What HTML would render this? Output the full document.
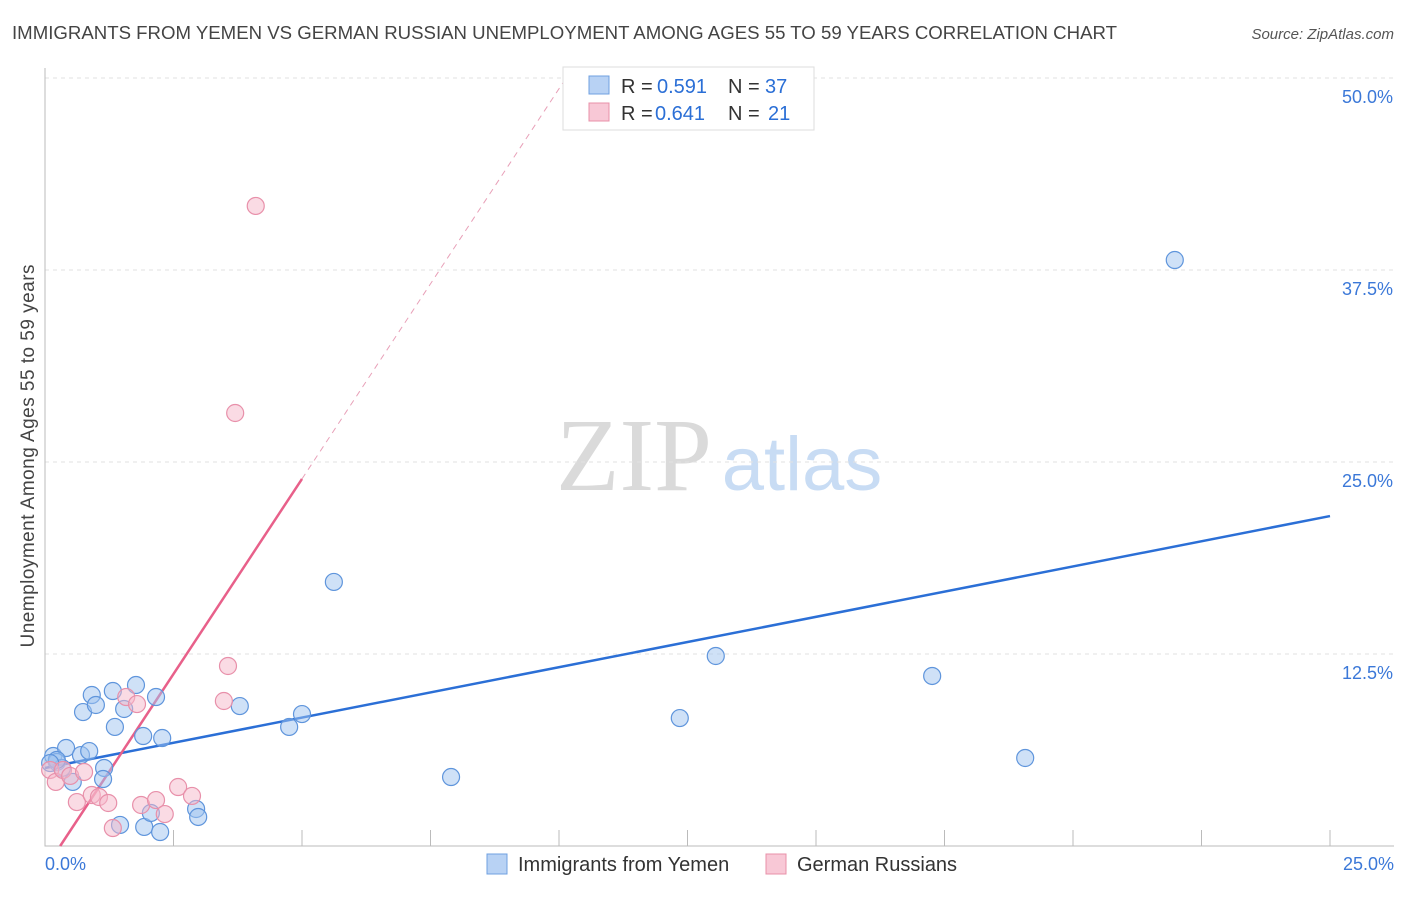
<!DOCTYPE html>
<html><head><meta charset="utf-8"><style>
body{margin:0;background:#fff;font-family:"Liberation Sans",sans-serif;}
</style></head><body>
<svg id="chart" width="1406" height="892" xmlns="http://www.w3.org/2000/svg">
<text x="12" y="39" font-size="18" fill="#444" textLength="1105" lengthAdjust="spacingAndGlyphs">IMMIGRANTS FROM YEMEN VS GERMAN RUSSIAN UNEMPLOYMENT AMONG AGES 55 TO 59 YEARS CORRELATION CHART</text>
<text x="1394" y="39" font-size="15" fill="#555" font-style="italic" text-anchor="end">Source: ZipAtlas.com</text>
<text x="634" y="490" font-size="104" fill="#dadada" font-family="Liberation Serif,serif" text-anchor="middle">ZIP</text>
<text x="802" y="490" font-size="76" fill="#c8dcf4" text-anchor="middle">atlas</text>
<g id="grid"></g><g id="axes"></g><g id="lines"></g><g id="pts"></g>
<text transform="translate(34,456) rotate(-90)" font-size="19" fill="#444" text-anchor="middle" textLength="383">Unemployment Among Ages 55 to 59 years</text>
<g>
<rect x="563" y="67" width="251" height="63" fill="#fff" stroke="#ddd"/>
<rect x="589" y="76" width="20" height="18" fill="#b8d2f4" stroke="#6fa0e0"/>
<text x="621" y="93" font-size="20" fill="#333">R =</text>
<text x="657" y="93" font-size="20" fill="#2b6fd6">0.591</text>
<text x="728" y="93" font-size="20" fill="#333">N =</text>
<text x="765" y="93" font-size="20" fill="#2b6fd6">37</text>
<rect x="589" y="103" width="20" height="18" fill="#f8c8d6" stroke="#e890a8"/>
<text x="621" y="120" font-size="20" fill="#333">R =</text>
<text x="655" y="120" font-size="20" fill="#2b6fd6">0.641</text>
<text x="728" y="120" font-size="20" fill="#333">N =</text>
<text x="768" y="120" font-size="20" fill="#2b6fd6">21</text>
</g>
<g>
<rect x="487" y="854" width="20" height="20" fill="#b8d2f4" stroke="#6fa0e0"/>
<text x="518" y="871" font-size="20" fill="#333">Immigrants from Yemen</text>
<rect x="766" y="854" width="20" height="20" fill="#f8c8d6" stroke="#e890a8"/>
<text x="797" y="871" font-size="20" fill="#333">German Russians</text>
</g>
</svg>
<script>
const xTicks=[0,2.5,5,7.5,10,12.5,15,17.5,20,22.5,25];
const yTicks=[12.5,25,37.5,50];
const yTickLabels=["12.5%","25.0%","37.5%","50.0%"];
const blueX=[0.16,0.23,0.41,0.54,0.33,0.70,0.86,0.74,0.91,0.99,1.15,1.13,1.32,1.36,1.54,1.77,1.91,2.16,2.28,1.46,1.93,2.06,2.24,2.94,2.98,3.79,4.75,5.00,5.62,7.90,12.35,13.05,17.26,19.07,21.98,0.23,0.10];
const blueY=[5.86,5.47,6.38,4.17,5.08,5.92,6.18,8.72,9.83,9.18,5.08,4.36,10.09,7.75,8.92,10.48,7.16,9.70,7.03,1.37,1.24,2.15,0.91,2.41,1.89,9.11,7.75,8.59,17.19,4.49,8.33,12.37,11.07,5.73,38.15,5.6,5.4];
const pinkX=[0.10,0.21,0.35,0.49,0.76,0.62,0.91,1.05,1.23,1.32,1.58,1.79,1.87,2.16,2.33,2.59,2.86,3.48,3.56,3.70,4.10];
const pinkY=[4.95,4.17,4.95,4.56,4.82,2.86,3.32,3.19,2.80,1.17,9.70,9.24,2.67,2.99,2.08,3.84,3.26,9.44,11.72,28.19,41.67];
const blueFit=[5.08,21.48];
const pinkFit=[-1.5,5.08];
const X=v=>45+v/25*1285, Y=v=>846-v*15.36;
const NS="http://www.w3.org/2000/svg";
function mk(t,a,p){const e=document.createElementNS(NS,t);for(const k in a)e.setAttribute(k,a[k]);document.getElementById(p).appendChild(e);return e;}
yTicks.forEach((t,i)=>{
 const g=mk('line',{x1:45,x2:1394,y1:Y(t),y2:Y(t),stroke:'#e2e2e2','stroke-dasharray':'4,4'},'grid');
 
 
 const l=mk('text',{x:1393,y:Y(t)+25,'font-size':18,fill:'#3b78d8','text-anchor':'end'},'axes');l.textContent=yTickLabels[i];
 
 
});
const ax=mk('path',{d:`M45 68V846H1394`,fill:'none',stroke:'#bbb'},'axes');


xTicks.forEach(t=>{if(t===0)return;const e=mk('line',{x1:X(t),x2:X(t),y1:846,y2:830,stroke:'#bbb'},'axes');
 
 });
[["0.0%",45,'start'],["25.0%",1394,'end']].forEach(a=>{const e=mk('text',{x:a[1],y:870,'font-size':18,fill:'#3b78d8','text-anchor':a[2]},'axes');e.textContent=a[0];
 
 });
const bl=mk('line',{x1:X(0),y1:Y(blueFit[0]),x2:X(25),y2:Y(blueFit[1]),stroke:'#2b6fd6','stroke-width':2.5},'lines');


const px=y=>(y-pinkFit[0])/pinkFit[1];
const pl=mk('line',{x1:X(px(0)),y1:Y(0),x2:X(5),y2:Y(pinkFit[0]+pinkFit[1]*5),stroke:'#e8608a','stroke-width':2.5},'lines');


const pd=mk('line',{x1:X(5),y1:Y(pinkFit[0]+pinkFit[1]*5),x2:X(px(50)),y2:Y(50),stroke:'#e8a0b8','stroke-width':1,'stroke-dasharray':'6,5'},'lines');


blueX.forEach((v,i)=>{const c=mk('circle',{cx:X(v),cy:Y(blueY[i]),r:8.5,fill:'rgba(160,196,240,0.5)',stroke:'#5f95dc','stroke-width':1.2},'pts');
 
 });
pinkX.forEach((v,i)=>{const c=mk('circle',{cx:X(v),cy:Y(pinkY[i]),r:8.5,fill:'rgba(246,184,202,0.5)',stroke:'#e890aa','stroke-width':1.2},'pts');
 
 });
</script>
</body></html>
